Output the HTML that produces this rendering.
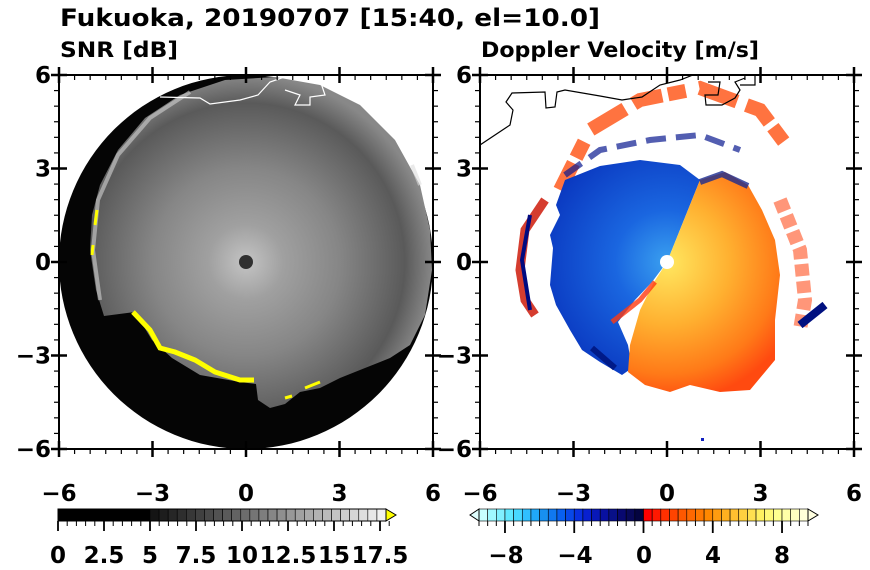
<!DOCTYPE html>
<html><head><meta charset="utf-8"><style>
html,body{margin:0;padding:0;background:#fff;width:870px;height:570px;overflow:hidden}
svg text{font-family:"DejaVu Sans","Liberation Sans",sans-serif;font-weight:bold;fill:#000}
</style></head><body>
<svg id="s" width="870" height="570" viewBox="0 0 870 570" xmlns="http://www.w3.org/2000/svg">
<defs>
<clipPath id="cl"><rect x="59" y="75" width="374" height="374"/></clipPath>
<clipPath id="cr"><rect x="480" y="75" width="374" height="374"/></clipPath>
<radialGradient id="gg" cx="246" cy="262" r="187" gradientUnits="userSpaceOnUse">
<stop offset="0" stop-color="#c4c4c4"/><stop offset="0.2" stop-color="#a0a0a0"/><stop offset="0.5" stop-color="#868686"/><stop offset="0.85" stop-color="#5a5a5a"/><stop offset="1" stop-color="#888"/></radialGradient>
<radialGradient id="gb" cx="667" cy="262" r="130" gradientUnits="userSpaceOnUse">
<stop offset="0" stop-color="#3aa0f0"/><stop offset="0.4" stop-color="#1a66e0"/><stop offset="1" stop-color="#0a38c0"/></radialGradient>
<radialGradient id="go" cx="667" cy="262" r="140" gradientUnits="userSpaceOnUse">
<stop offset="0" stop-color="#ffe860"/><stop offset="0.45" stop-color="#ffb030"/><stop offset="0.8" stop-color="#ff7a18"/><stop offset="1" stop-color="#ff4a10"/></radialGradient>
</defs>
<text x="60" y="26" font-size="24" textLength="540" lengthAdjust="spacingAndGlyphs">Fukuoka, 20190707 [15:40, el=10.0]</text>
<text x="60" y="57" font-size="21" textLength="118" lengthAdjust="spacingAndGlyphs">SNR [dB]</text>
<text x="481" y="57" font-size="21" textLength="278" lengthAdjust="spacingAndGlyphs">Doppler Velocity [m/s]</text>

<g clip-path="url(#cl)">
<circle cx="246" cy="262" r="187" fill="#050505"/>
<path d="M104,316 L96,290 L90,250 L92,215 L100,185 L118,150 L145,118 L180,95 L225,80 L275,77 L320,85 L360,105 L395,140 L420,185 L430,230 L432,270 L425,315 L410,345 L390,358 L365,368 L340,378 L320,388 L300,392 L285,404 L270,408 L258,400 L256,384 L240,382 L200,375 L172,358 L152,340 L135,312 Z" fill="url(#gg)"/>
<path d="M100,300 L93,250 L98,200 L118,155 L150,118 L190,92" fill="none" stroke="#d0d0d0" stroke-width="4" opacity="0.6"/>
<path d="M412,165 L420,185" stroke="#ddd" stroke-width="4" opacity="0.6"/>
<path d="M133,312 L150,330 L160,348 L175,352 L195,360 L215,372 L240,380 L254,380" fill="none" stroke="#ffff00" stroke-width="5"/>
<path d="M97,210 L95,225 M93,245 L92,255" stroke="#ffff00" stroke-width="3"/>
<path d="M305,388 L320,382 M285,398 L292,396" stroke="#ffff00" stroke-width="3"/>
<circle cx="246" cy="262" r="7" fill="#303030"/>
<path d="M160,97 L200,98 L210,104 L240,100 L258,95 L270,82 L290,75 M285,90 L300,95 L295,105 L310,105 L310,97 L325,95 L320,80 L300,78" fill="none" stroke="#fff" stroke-width="1.2"/>
</g>

<g clip-path="url(#cr)">
<path d="M560,190 L590,130 L640,100 L700,88 L760,110 L790,150" fill="none" stroke="#ff5010" stroke-width="14" opacity="0.8" stroke-dasharray="30 6 18 14 40 10"/>
<path d="M565,175 L600,150 L650,140 L700,135 L740,150" fill="none" stroke="#0a1a90" stroke-width="6" opacity="0.7" stroke-dasharray="20 10"/>
<path d="M545,200 L525,230 L520,270 L525,300 L535,315" fill="none" stroke="#d02818" stroke-width="9" opacity="0.9"/>
<path d="M530,215 L522,260 L530,310" fill="none" stroke="#000a80" stroke-width="4"/>
<path d="M780,200 L800,250 L805,300 L800,330" fill="none" stroke="#ff5020" stroke-width="14" opacity="0.6" stroke-dasharray="12 5"/>
<path d="M800,325 L825,305" stroke="#001080" stroke-width="8"/>
<path d="M667,262 L700,180 L680,165 L640,160 L600,166 L565,180 L556,205 L560,215 L550,235 L553,248 L550,285 L556,305 L570,330 L582,350 L600,362 L622,375 L632,368 L628,345 L618,322 L635,300 L652,282 Z" fill="url(#gb)"/>
<path d="M667,262 L700,180 L725,172 L748,185 L762,210 L775,240 L780,275 L775,320 L775,360 L750,390 L720,392 L690,385 L670,392 L645,385 L628,372 L630,345 L640,310 L654,282 Z" fill="url(#go)"/>
<path d="M700,182 L722,174 L748,186" fill="none" stroke="#1a2a90" stroke-width="6" opacity="0.8"/>
<path d="M612,322 L640,300 L655,282" fill="none" stroke="#ff3a10" stroke-width="5" opacity="0.8"/>
<path d="M592,348 L615,368" stroke="#001a88" stroke-width="6"/>
<circle cx="667" cy="262" r="7" fill="#fff"/>
<path d="M480,145 L510,125 L513,110 L506,102 L512,93 L545,92 L546,108 L555,107 L557,92 L565,90 L600,96 L622,100 L642,97 L660,85 L680,80 L693,75 M708,82 L720,82 L718,95 L705,95 L706,105 L722,105 L735,98 L740,90 L735,82 L745,78 M740,85 L755,85 L755,75" fill="none" stroke="#000" stroke-width="1.2"/>
<rect x="701" y="438" width="3" height="3" fill="#1020c0"/>
</g>
<g id="axes" stroke="#000" fill="none"></g>
<g id="cb"></g>
</svg>
<script>
var NS="http://www.w3.org/2000/svg",ax=document.getElementById("axes"),cb=document.getElementById("cb"),s=document.getElementById("s");
function el(t,a,p){var e=document.createElementNS(NS,t);for(var k in a)e.setAttribute(k,a[k]);(p||s).appendChild(e);return e}
function line(x1,y1,x2,y2,w,p){el("line",{x1:x1,y1:y1,x2:x2,y2:y2,stroke:"#000","stroke-width":w||1.5},p||ax)}
function txt(x,y,t,sz,anc){var e=el("text",{x:x,y:y,"font-size":sz,"text-anchor":anc||"middle"});e.textContent=t}
[59,480].forEach(function(X0){
 var u=374/12;
 el("rect",{x:X0,y:75,width:374,height:374,fill:"none",stroke:"#000","stroke-width":2},ax);
 for(var i=0;i<=24;i++){var p=i*u/2,maj=i%6==0,L=maj?8:5;
  line(X0+p,449-(maj?L:0),X0+p,449+L,maj?2.5:1.2);
  line(X0+p,75-(maj?L:0),X0+p,75+L,maj?2.5:1.2);
  line(X0-L,75+p,X0+(maj?L:0),75+p,maj?2.5:1.2);
  line(X0+374-(maj?L:0),75+p,X0+374+L,75+p,maj?2.5:1.2);
 }
 ["−6","−3","0","3","6"].forEach(function(t,j){txt(X0+j*u*3,501,t,23)});
});
["6","3","0","−3","−6"].forEach(function(t,j){txt(51,83+j*93.5,t,23,"end");txt(472,83+j*93.5,t,23,"end")});
el("rect",{x:58,y:509,width:92,height:12,fill:"#000"},cb);
var n=26,w=(386-150)/n;
for(var i=0;i<n;i++){var g=Math.round(20+i*(240-20)/(n-1));el("rect",{x:150+i*w,y:509,width:w,height:12,fill:"rgb("+g+","+g+","+g+")",stroke:"#000","stroke-width":0.6},cb)}
el("rect",{x:58,y:509,width:328,height:12,fill:"none",stroke:"#000","stroke-width":1},cb);
el("polygon",{points:"386,509 396,515 386,521",fill:"#ffff00",stroke:"#000","stroke-width":1},cb);
for(var i=0;i<=36;i++){var x=58+i*9.2,maj=i%5==0;line(x,521,x,maj?531:526,maj?1.8:1,cb)}
["0","2.5","5","7.5","10","12.5","15","17.5"].forEach(function(t,j){txt(58+j*46,563,t,23)});
var cols=["#c8ffff","#a0f8ff","#80f0ff","#60e8ff","#48d8ff","#30c0ff","#20a8f8","#1890f0","#1078f0","#0860f0","#0848e8","#0830e0","#0820d0","#0818b8","#0810a0","#081088","#080870","#080858","#040440",
"#ff0000","#ff1800","#ff3000","#ff4400","#ff5800","#ff6800","#ff7800","#ff8800","#ff9c10","#ffb020","#ffc030","#ffd040","#ffe050","#fff060","#fff878","#ffff90","#ffffa8","#ffffc0","#ffffd8"];
var w2=(808-479)/cols.length;
cols.forEach(function(c,i){el("rect",{x:479+i*w2,y:509,width:w2,height:12,fill:c,stroke:"#000","stroke-width":0.6},cb)});
el("polygon",{points:"479,509 470,515 479,521",fill:"#e0ffff",stroke:"#000","stroke-width":1},cb);
el("polygon",{points:"808,509 818,515 808,521",fill:"#ffffe0",stroke:"#000","stroke-width":1},cb);
for(var i=0;i<=38;i++){var x=479+i*w2,v=-9.5+i*0.5,maj=(Math.abs(v%4)<0.01);line(x,521,x,maj?533:526,maj?1.8:1,cb)}
["−8","−4","0","4","8"].forEach(function(t,j){txt(506+j*69,563,t,23)});
</script>
</body></html>
